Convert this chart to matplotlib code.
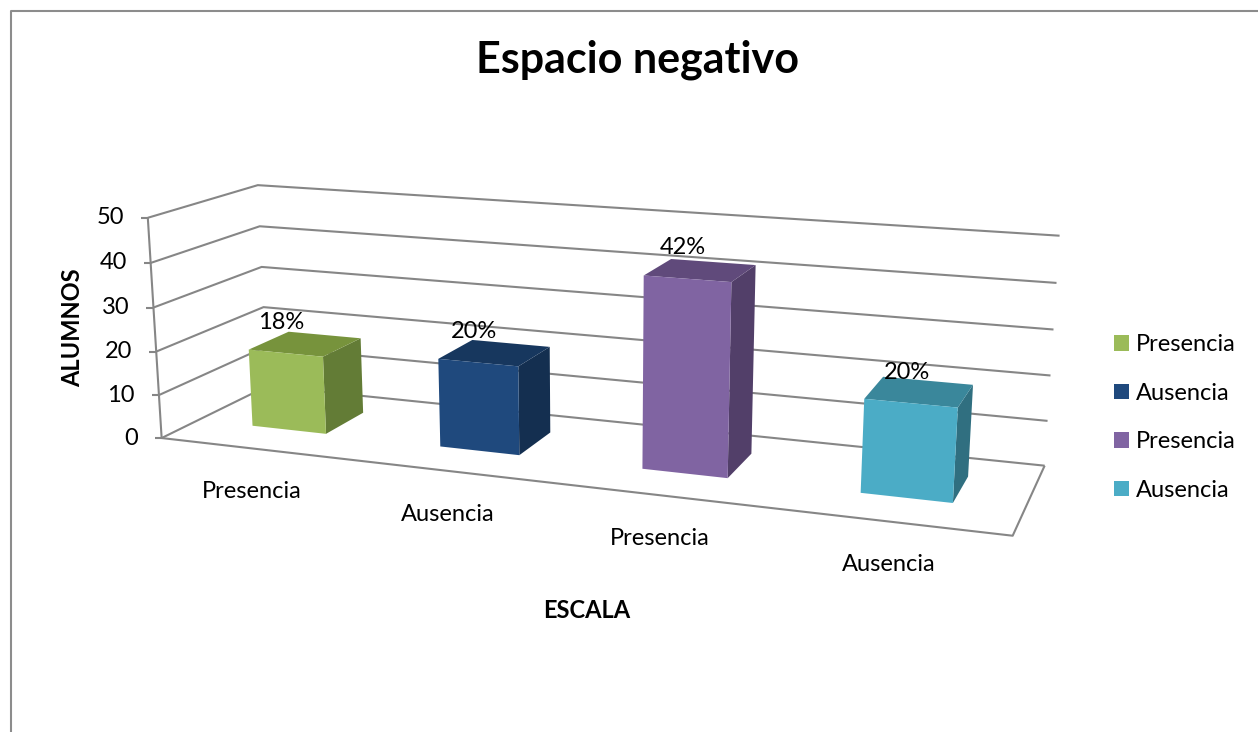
import numpy as np
import matplotlib.pyplot as plt
from matplotlib.patches import Polygon

# Data
categorias = ['Presencia', 'Ausencia', 'Presencia', 'Ausencia']
alumnos = [18, 20, 42, 20]
etiquetas = ['18%', '20%', '42%', '20%']
ticks_y = [0, 10, 20, 30, 40, 50]

# front / top / side colours for each bar
color_frente = ['#9BBB59', '#1F497D', '#8064A2', '#4BACC6']
color_arriba = ['#77933C', '#17375E', '#604A7B', '#3A879B']
color_lado = ['#637C36', '#142F50', '#523F69', '#306F80']

plt.rcParams['font.family'] = ['Lato', 'DejaVu Sans']
fs = 17

W, H = 1258, 732
fig = plt.figure(figsize=(W / 100, H / 100), dpi=100)
ax = fig.add_axes([0, 0, 1, 1])
ax.set_xlim(0, W)
ax.set_ylim(H, 0)
ax.axis('off')

zmax = ticks_y[-1]

# pixel positions of the wall corners / gridline ends, used to fit a perspective camera
# (u = category axis 0..1, v = depth 0..1, z = value)
esquinas_3d = [(0, 0, 50), (0, 0, 0), (0, 1, 50), (0, 1, 40), (0, 1, 30), (0, 1, 20), (0, 1, 0),
               (1, 1, 50), (1, 1, 40), (1, 1, 30), (1, 1, 20), (1, 1, 10), (1, 1, 0), (1, 0, 0)]
esquinas_px = [(146.7, 218.3), (162.7, 436.7), (258.3, 185), (260, 226), (262.3, 266.7),
               (263.3, 306.7), (266, 388), (1059.3, 236), (1056.7, 283.3), (1053.3, 329.3),
               (1050.7, 375), (1047.7, 420.7), (1044.5, 465), (1012.7, 536.7)]


def fit_camera(p3, p2):
    A = []
    for (X, Y, Z), (x, y) in zip(p3, p2):
        Z = Z / zmax
        x, y = x / 1000, y / 1000
        A.append([X, Y, Z, 1, 0, 0, 0, 0, -x * X, -x * Y, -x * Z, -x])
        A.append([0, 0, 0, 0, X, Y, Z, 1, -y * X, -y * Y, -y * Z, -y])
    _, _, vt = np.linalg.svd(np.array(A))
    return vt[-1].reshape(3, 4)


cam = fit_camera(esquinas_3d, esquinas_px)


def proj(u, v, z):
    p = cam @ [u, v, z / zmax, 1]
    return p[:2] / p[2] * 1000


grid_kw = dict(color='#868686', lw=1.5, zorder=1, solid_capstyle='butt')

# walls
for z in ticks_y:
    a, b, c = proj(0, 0, z), proj(0, 1, z), proj(1, 1, z)
    ax.plot([a[0], b[0], c[0]], [a[1], b[1], c[1]], **grid_kw)
# floor front and right edges
a, b, c = proj(0, 0, 0), proj(1, 0, 0), proj(1, 1, 0)
ax.plot([a[0], b[0], c[0]], [a[1], b[1], c[1]], **grid_kw)
# vertical axis with tick marks
a, b = proj(0, 0, 0), proj(0, 0, zmax)
ax.plot([a[0], b[0]], [a[1], b[1]], **grid_kw)
for z in ticks_y:
    p = proj(0, 0, z)
    ax.plot([p[0] - 7, p[0]], [p[1], p[1]], **grid_kw)
    ax.text(p[0] - 24, p[1], str(z), ha='right', va='center', fontsize=fs)

# bars
n = len(alumnos)
v0, v1 = 0.33, 0.72
for i, val in enumerate(alumnos):
    uc = (i + 0.5) / n
    u0, u1 = uc - 0.05, uc + 0.05
    lado = [proj(u1, v0, 0), proj(u1, v1, 0), proj(u1, v1, val), proj(u1, v0, val)]
    arriba = [proj(u0, v0, val), proj(u1, v0, val), proj(u1, v1, val), proj(u0, v1, val)]
    frente = [proj(u0, v0, 0), proj(u1, v0, 0), proj(u1, v0, val), proj(u0, v0, val)]
    ax.add_patch(Polygon(lado, closed=True, fc=color_lado[i], ec='none', zorder=3))
    ax.add_patch(Polygon(arriba, closed=True, fc=color_arriba[i], ec='none', zorder=3))
    ax.add_patch(Polygon(frente, closed=True, fc=color_frente[i], ec='none', zorder=4,
                         label=categorias[i]))
    # data label above the front top edge
    p = proj(uc, v0, val)
    ax.text(p[0] - 4, p[1] - 31, etiquetas[i], ha='center', va='center', fontsize=fs, zorder=5)
    # category label below the floor
    q = proj(uc, 0, 0)
    ax.text(q[0] - 2, q[1] + 43, categorias[i], ha='center', va='center', fontsize=fs)

# titles
ax.text(637, 60, 'Espacio negativo', ha='center', va='center', fontsize=31, fontweight='bold')
ax.text(73, 328, 'ALUMNOS', ha='center', va='center', rotation=90, fontsize=fs,
        fontweight='bold')
ax.text(587, 610, 'ESCALA', ha='center', va='center', fontsize=fs, fontweight='bold')

# legend
ax.legend(loc='upper left', bbox_to_anchor=(1114 / W, 1 - 334 / H), frameon=False,
          fontsize=fs, handlelength=0.64, handleheight=0.64, handletextpad=0.3,
          labelspacing=1.17, borderpad=0, borderaxespad=0)

# chart border
ax.plot([10.5, 10.5, W], [H, 10.5, 10.5], color='#8C8C8C', lw=1.5, zorder=0)

fig.savefig('out.png', dpi=100)
